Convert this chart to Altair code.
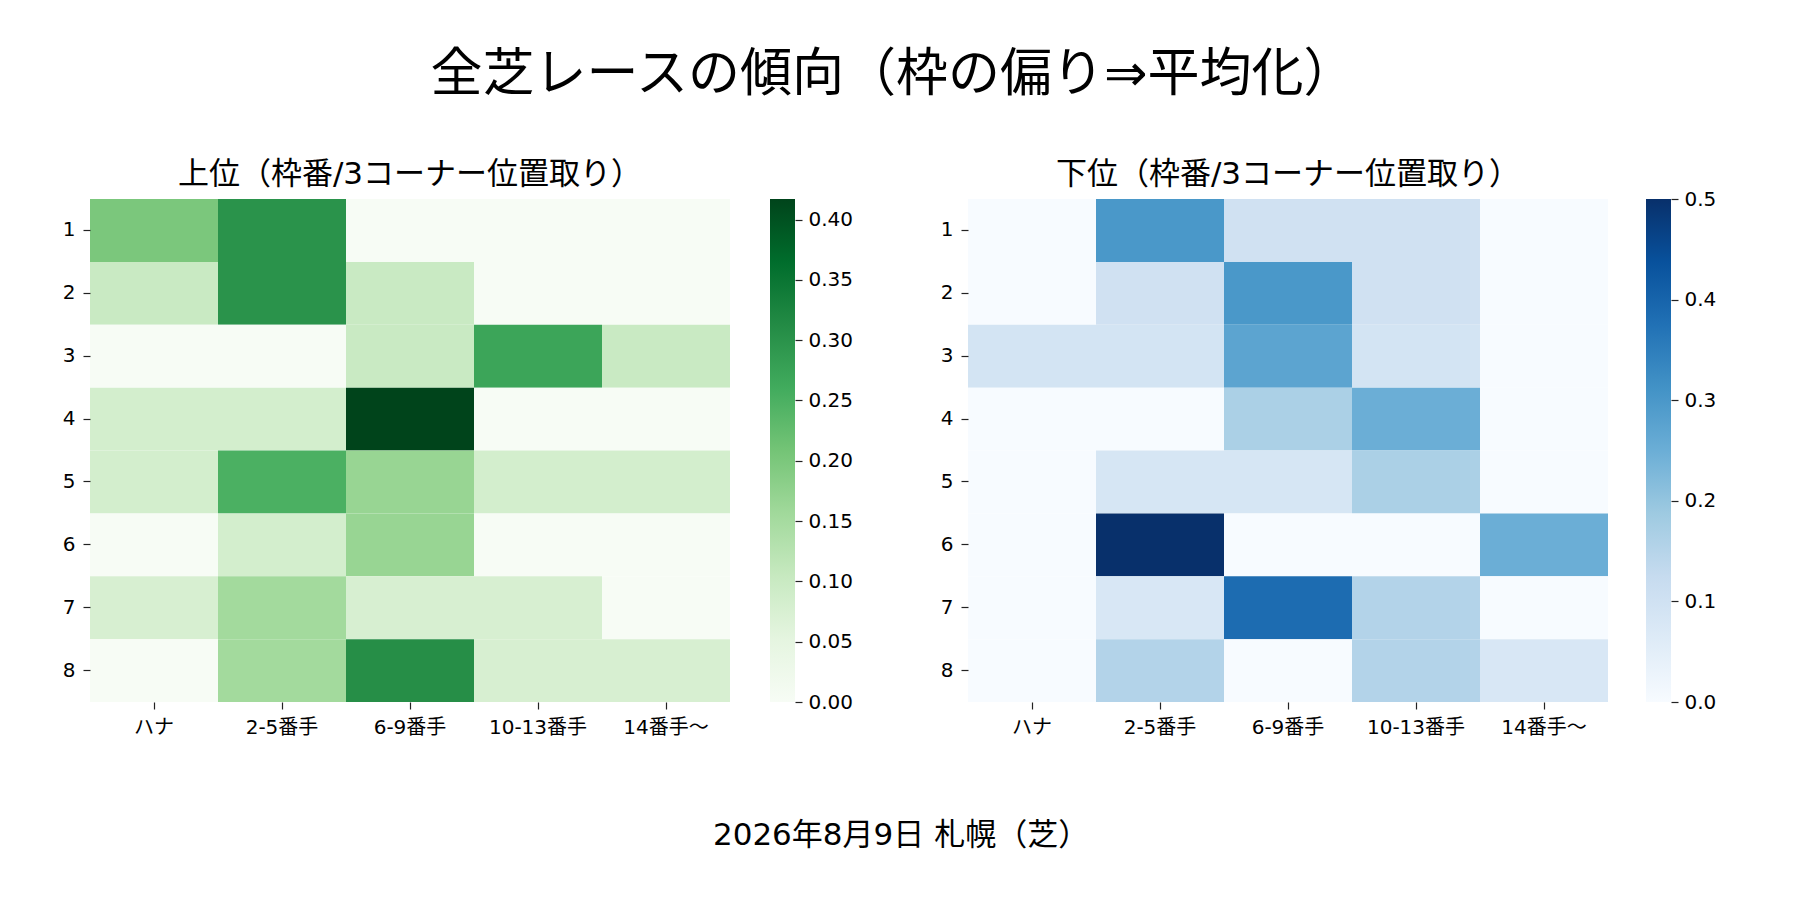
import altair as alt
import pandas as pd

FONT = "DejaVu Sans, Noto Sans CJK JP"

# ---- data ----
cols = ["ハナ", "2-5番手", "6-9番手", "10-13番手", "14番手～"]
rows = ["1", "2", "3", "4", "5", "6", "7", "8"]

top_r1 = [0.200, 0.300, 0.000, 0.000, 0.000]
top_r2 = [0.100, 0.300, 0.100, 0.000, 0.000]
top_r3 = [0.000, 0.000, 0.100, 0.270, 0.100]
top_r4 = [0.083, 0.083, 0.417, 0.000, 0.000]
top_r5 = [0.083, 0.250, 0.167, 0.083, 0.083]
top_r6 = [0.000, 0.083, 0.167, 0.000, 0.000]
top_r7 = [0.077, 0.154, 0.077, 0.077, 0.000]
top_r8 = [0.000, 0.154, 0.308, 0.077, 0.077]

bot_r1 = [0.000, 0.300, 0.100, 0.100, 0.000]
bot_r2 = [0.000, 0.100, 0.300, 0.100, 0.000]
bot_r3 = [0.091, 0.091, 0.273, 0.091, 0.000]
bot_r4 = [0.000, 0.000, 0.167, 0.250, 0.000]
bot_r5 = [0.000, 0.083, 0.083, 0.167, 0.000]
bot_r6 = [0.000, 0.500, 0.000, 0.000, 0.250]
bot_r7 = [0.000, 0.077, 0.385, 0.154, 0.000]
bot_r8 = [0.000, 0.154, 0.000, 0.154, 0.077]

top_ticks = [0.00, 0.05, 0.10, 0.15, 0.20, 0.25, 0.30, 0.35, 0.40]
bot_ticks = [0.0, 0.1, 0.2, 0.3, 0.4, 0.5]

title_main = "全芝レースの傾向（枠の偏り⇒平均化）"
title_top = "上位（枠番/3コーナー位置取り）"
title_bot = "下位（枠番/3コーナー位置取り）"
footer = "2026年8月9日 札幌（芝）"

greens = ["#f7fcf5", "#e5f5e0", "#c7e9c0", "#a1d99b", "#74c476",
          "#41ab5d", "#238b45", "#006d2c", "#00441b"]
blues = ["#f7fbff", "#deebf7", "#c6dbef", "#9ecae1", "#6baed6",
         "#4292c6", "#2171b5", "#08519c", "#08306b"]

HM_W, HM_H = 640, 503
CB_W = 25


def long_df(matrix):
    recs = []
    for r, vals in zip(rows, matrix):
        for c, v in zip(cols, vals):
            recs.append({"row": r, "col": c, "value": v})
    return pd.DataFrame(recs)


def heatmap(matrix, vmax, colors, title):
    df = long_df(matrix)
    n = len(colors) - 1
    scale = alt.Scale(domain=[vmax * i / n for i in range(n + 1)],
                      range=colors, interpolate="rgb")
    return alt.Chart(df).mark_rect().encode(
        x=alt.X("col:N", sort=cols,
                scale=alt.Scale(paddingInner=0, paddingOuter=0),
                axis=alt.Axis(title=None, labelAngle=0, labelPadding=8)),
        y=alt.Y("row:N", sort=rows,
                scale=alt.Scale(paddingInner=0, paddingOuter=0),
                axis=alt.Axis(title=None, labelPadding=8)),
        color=alt.Color("value:Q", scale=scale, legend=None),
    ).properties(
        width=HM_W, height=HM_H,
        title=alt.TitleParams(title, fontSize=31, font=FONT,
                              fontWeight="normal", offset=8),
    )


def colorbar(vmax, colors, ticks, fmt):
    n = len(colors) - 1
    grad = alt.LinearGradient(
        gradient="linear",
        stops=[alt.GradientStop(color=c, offset=i / n) for i, c in enumerate(colors)],
        x1=0, x2=0, y1=1, y2=0,
    )
    df = pd.DataFrame({"lo": [0.0], "hi": [vmax]})
    return alt.Chart(df).mark_rect(color=grad).encode(
        x=alt.value(0), x2=alt.value(CB_W),
        y=alt.Y("lo:Q", scale=alt.Scale(domain=[0, vmax], nice=False, zero=False),
                axis=alt.Axis(orient="right", values=ticks, format=fmt,
                              title=None, labelPadding=6)),
        y2="hi:Q",
    ).properties(width=CB_W, height=HM_H)


top_m = [top_r1, top_r2, top_r3, top_r4, top_r5, top_r6, top_r7, top_r8]
bot_m = [bot_r1, bot_r2, bot_r3, bot_r4, bot_r5, bot_r6, bot_r7, bot_r8]
top_max = max(max(r) for r in top_m)
bot_max = max(max(r) for r in bot_m)

left_pair = alt.hconcat(heatmap(top_m, top_max, greens, title_top),
                        colorbar(top_max, greens, top_ticks, ".2f"), spacing=40)
right_pair = alt.hconcat(heatmap(bot_m, bot_max, blues, title_bot),
                         colorbar(bot_max, blues, bot_ticks, ".1f"), spacing=38)

mid = alt.hconcat(left_pair, right_pair, spacing=87).resolve_scale(
    color="independent"
).properties(
    title=alt.TitleParams(footer, orient="bottom", anchor="middle", fontSize=31,
                          font=FONT, fontWeight="normal", offset=84, dx=12)
)

chart = alt.vconcat(mid).properties(
    title=alt.TitleParams(title_main, anchor="middle", fontSize=52, font=FONT,
                          fontWeight="normal", offset=57, dx=4),
    padding={"left": 54, "top": 41, "right": 10, "bottom": 10},
).resolve_scale(color="independent").configure_axis(
    domain=False, grid=False, tickSize=7, tickColor="#222", tickWidth=1.2,
    labelColor="#000", labelFontSize=20, labelFont=FONT,
).configure_view(stroke=None).configure_title(color="#000")

chart.save("out.html", embed_options={"renderer": "svg", "actions": False})
